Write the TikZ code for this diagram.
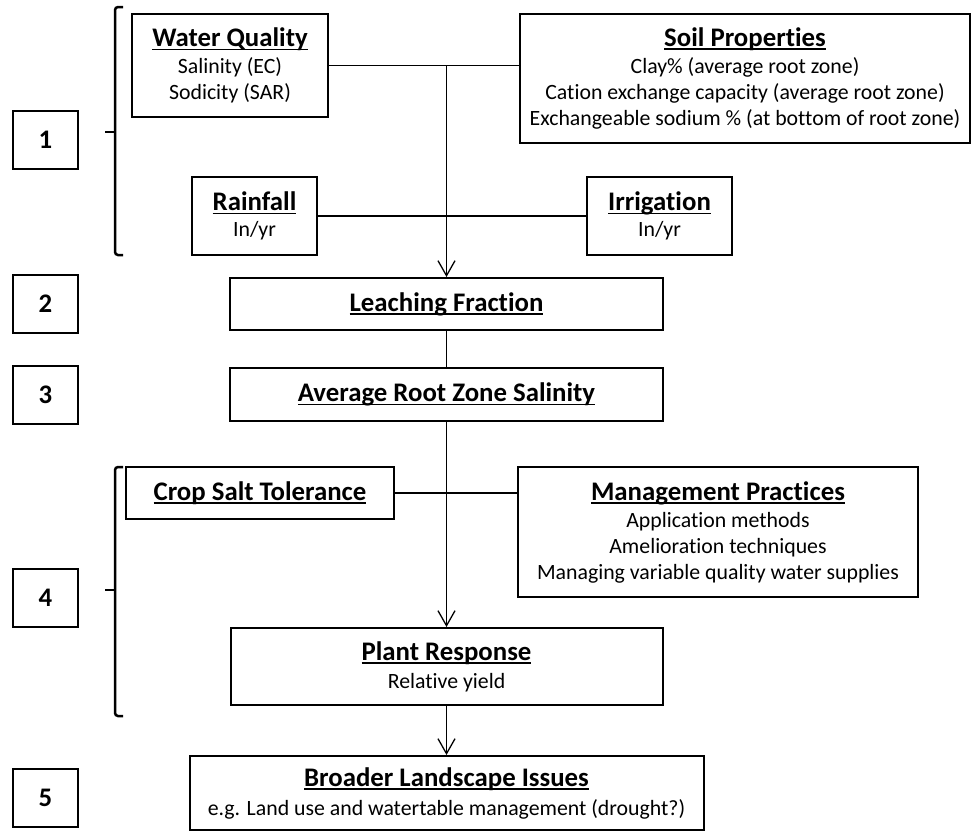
\documentclass[tikz,border=0pt]{standalone}
\usepackage{fontspec}
\setmainfont{Carlito}[Ligatures=NoCommon]
\usetikzlibrary{arrows.meta}
\newcommand{\ulbox}[1]{\setbox0\hbox{#1}\leavevmode\rlap{\rule[-3.8pt]{\wd0}{1.9pt}}\box0}
\newcommand{\ttl}[1]{{\fontsize{26.8}{28}\selectfont\bfseries\ulbox{#1}}}
\begin{document}
\begin{tikzpicture}[x=1pt,y=-1pt,
  box/.style={draw, line width=2pt, align=center, inner sep=0pt,
    font=\fontsize{21.8}{26}\selectfont},
  numbox/.style={draw, line width=2pt, minimum width=65pt, minimum height=58pt,
    inner sep=0pt, font=\fontsize{26.8}{28}\selectfont\bfseries},
  conn/.style={line width=1.3pt},
  arr/.style={conn, -{Straight Barb[length=15pt,width=17pt,line width=1.3pt]}},
  brk/.style={line width=2.5pt, rounded corners=3pt}]
\useasboundingbox (0,0) rectangle (975,831);

% step number boxes
\node[numbox] (n1) at (45.5,140) {1};
\node[numbox] (n2) at (45.5,304) {2};
\node[numbox] (n3) at (45.5,394.5) {3};
\node[numbox] (n4) at (45.5,598) {4};
\node[numbox] (n5) at (45.5,798) {5};

% brackets
\draw[brk] (123,7) -- (115,7) -- (115,255) -- (123,255);
\draw[brk] (115,132) -- (105,132);
\draw[brk] (123,467) -- (115,467) -- (115,716) -- (123,716);
\draw[brk] (115,590) -- (105,590);

% content boxes
\node[box, minimum width=196pt, minimum height=103pt] (wq) at (230,65.5)
  {\ttl{Water Quality}\\[1pt] Salinity (EC)\\ Sodicity (SAR)};
\node[box, minimum width=450pt, minimum height=129pt] (soil) at (745,78.5)
  {\ttl{Soil Properties}\\[1pt] Clay\% (average root zone)\\
   Cation exchange capacity (average root zone)\\
   Exchangeable sodium \% (at bottom of root zone)};
\node[box, minimum width=125pt, minimum height=78pt] (rain) at (254.5,216)
  {\ttl{Rainfall}\\ In/yr};
\node[box, minimum width=145pt, minimum height=78pt] (irr) at (659.5,216)
  {\ttl{Irrigation}\\ In/yr};
\node[box, minimum width=433pt, minimum height=52pt] (leach) at (446.5,304)
  {\ttl{Leaching Fraction}};
\node[box, minimum width=433pt, minimum height=53pt] (root) at (446.5,394.5)
  {\ttl{Average Root Zone Salinity}};
\node[box, minimum width=268pt, minimum height=52pt] (crop) at (260,493)
  {\ttl{Crop Salt Tolerance}};
\node[box, minimum width=400pt, minimum height=130pt] (mgmt) at (718,532)
  {\ttl{Management Practices}\\[1pt] Application methods\\
   Amelioration techniques\\ Managing variable quality water supplies};
\node[box, minimum width=432pt, minimum height=77pt] (plant) at (446.5,666.5)
  {\ttl{Plant Response}\\[2pt] Relative yield};
\node[box, minimum width=514pt, minimum height=74pt] (broad) at (446.5,793)
  {\ttl{Broader Landscape Issues}\\[3pt] e.g. Land use and watertable management (drought?)};

% connectors
\draw[conn] (wq.east) -- (wq.east -| soil.west);
\coordinate (j1) at (wq.east -| leach.north);
\draw[arr] (j1) -- (leach.north);
\draw[conn] (rain.east) -- (irr.west);
\draw[conn] (leach.south) -- (root.north);
\draw[arr] (root.south) -- (plant.north);
\draw[conn] (crop.east) -- (crop.east -| mgmt.west);
\draw[arr] (plant.south) -- (broad.north);
\end{tikzpicture}
\end{document}
